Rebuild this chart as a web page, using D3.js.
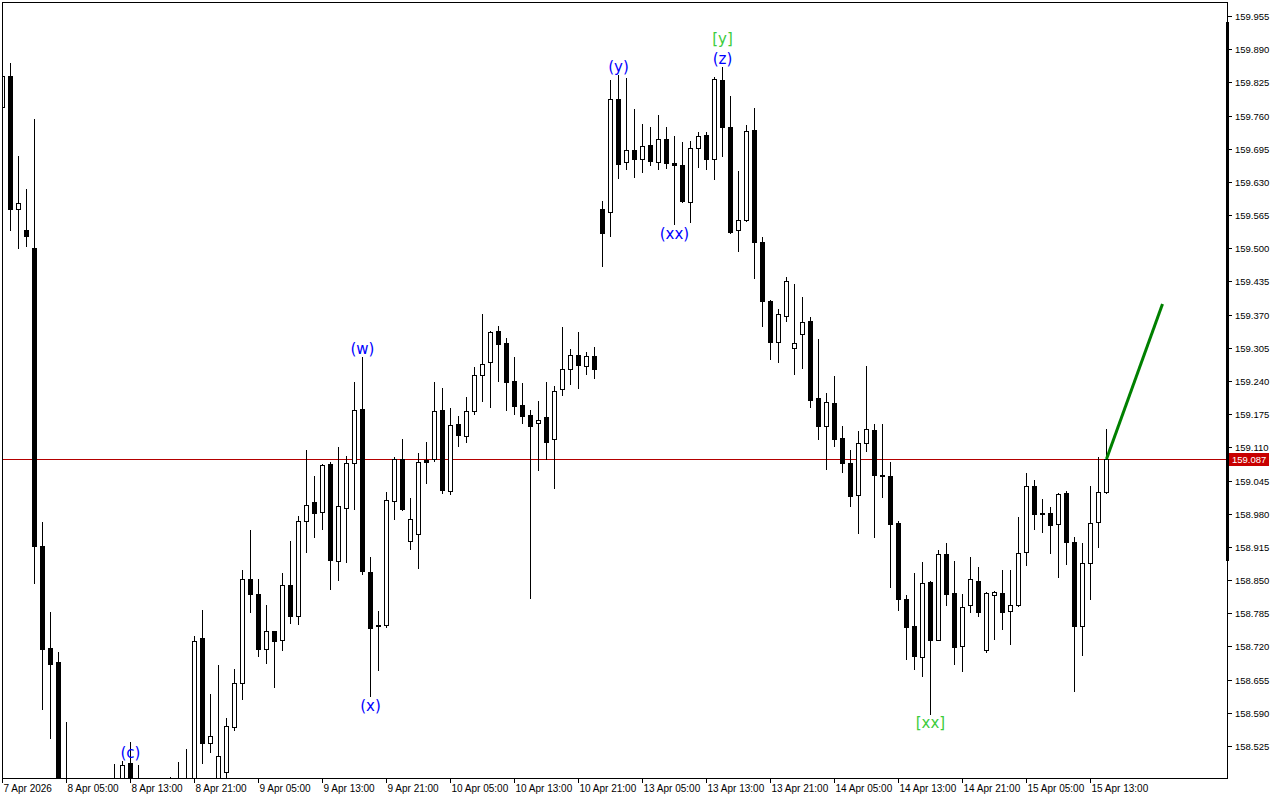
<!DOCTYPE html>
<html><head><meta charset="utf-8">
<script src="https://cdn.jsdelivr.net/npm/d3@7"></script>
<style>
html,body{margin:0;padding:0;background:#fff;}
svg{display:block;}
text{font-family:"Liberation Sans",Arial,sans-serif;}
</style></head>
<body><svg id="c" width="1280" height="800"></svg>
<script>
// ---- data (hourly candles, index 0 = 7 Apr 2026 21:00) ----
const open = [159.777,159.837,159.576,159.535,159.500,158.917,158.716,158.690,158.43,158.41,158.39,158.38,158.42,158.40,158.43,158.44,158.492,158.44,158.43,158.41,158.42,158.44,158.45,158.44,158.455,158.737,158.531,158.45,158.474,158.562,158.649,158.852,158.823,158.715,158.750,158.733,158.840,158.780,158.966,159.002,158.983,159.078,158.887,158.991,159.079,159.186,158.866,158.763,158.762,159.005,159.087,158.927,158.940,159.085,159.087,159.183,159.024,159.156,159.133,159.181,159.252,159.277,159.337,159.314,159.240,159.193,159.173,159.158,159.169,159.126,159.224,159.263,159.291,159.269,159.289,159.577,159.571,159.792,159.669,159.692,159.674,159.702,159.669,159.714,159.667,159.663,159.591,159.696,159.721,159.674,159.829,159.737,159.535,159.555,159.732,159.512,159.397,159.316,159.368,159.304,159.332,159.358,159.207,159.151,159.197,159.128,159.079,159.016,159.118,159.144,159.055,159.054,158.962,158.813,158.760,158.699,158.847,158.733,158.901,158.825,158.720,158.801,158.848,158.713,158.821,158.825,158.790,158.801,158.905,159.034,158.981,158.981,158.960,159.021,158.925,158.761,158.883,158.963,159.023];
const high = [159.841,159.863,159.681,159.617,159.754,158.964,158.787,158.710,158.572,158.445,158.43,158.44,158.455,158.45,158.489,158.496,158.532,158.487,158.455,158.45,158.455,158.465,158.493,158.520,158.741,158.792,158.626,158.683,158.580,158.676,158.870,158.949,158.852,158.801,158.751,158.863,158.927,158.975,159.105,159.054,159.078,159.082,159.111,159.094,159.238,159.287,158.896,158.790,159.023,159.091,159.127,159.011,159.099,159.120,159.238,159.227,159.188,159.171,159.209,159.268,159.372,159.338,159.348,159.325,159.287,159.236,159.184,159.201,159.238,159.231,159.346,159.303,159.336,159.297,159.307,159.593,159.830,159.840,159.833,159.773,159.744,159.738,159.761,159.738,159.720,159.708,159.710,159.728,159.728,159.836,159.855,159.798,159.651,159.741,159.774,159.522,159.399,159.381,159.444,159.430,159.405,159.366,159.323,159.217,159.250,159.152,159.105,159.142,159.270,159.156,159.156,159.082,158.965,158.821,158.863,158.886,158.848,158.908,158.923,158.888,158.823,158.896,158.876,158.827,158.828,158.870,158.870,158.974,159.060,159.047,159.009,158.993,159.021,159.025,158.934,158.923,159.035,159.092,159.146];
const low = [159.777,159.536,159.501,159.504,158.845,158.597,158.541,158.40,158.38,158.37,158.35,158.36,158.39,158.37,158.41,158.42,158.42,158.40,158.39,158.38,158.39,158.41,158.42,158.41,158.44,158.492,158.514,158.43,158.45,158.556,158.617,158.787,158.701,158.688,158.641,158.714,158.766,158.764,158.906,158.934,158.950,158.833,158.850,158.885,158.990,158.862,158.622,158.674,158.759,158.970,158.987,158.911,158.874,159.041,159.084,159.021,159.019,159.112,159.120,159.176,159.200,159.190,159.240,159.183,159.176,159.157,158.815,159.065,159.088,159.030,159.212,159.235,159.227,159.253,159.245,159.466,159.525,159.638,159.656,159.640,159.650,159.663,159.656,159.658,159.547,159.591,159.551,159.660,159.655,159.635,159.680,159.530,159.494,159.554,159.441,159.347,159.284,159.278,159.357,159.253,159.266,159.190,159.127,159.067,159.112,159.061,158.996,158.943,159.102,158.934,159.012,158.836,158.791,158.695,158.675,158.663,158.588,158.732,158.801,158.685,158.671,158.787,158.779,158.710,158.734,158.754,158.724,158.800,158.879,158.951,158.945,158.904,158.857,158.881,158.632,158.703,158.812,158.914,159.020];
const close = [159.837,159.577,159.588,159.524,158.917,158.715,158.686,158.43,158.41,158.39,158.38,158.42,158.40,158.43,158.44,158.487,158.44,158.43,158.41,158.42,158.44,158.45,158.44,158.455,158.731,158.531,158.545,158.506,158.564,158.649,158.852,158.823,158.715,158.750,158.730,158.840,158.779,158.966,158.997,158.981,159.076,158.889,158.995,159.080,159.183,158.867,158.757,158.760,159.007,159.087,158.990,158.970,159.081,159.082,159.181,159.026,159.154,159.135,159.181,159.252,159.273,159.336,159.312,159.239,159.192,159.172,159.151,159.164,159.120,159.221,159.263,159.291,159.271,159.289,159.263,159.529,159.792,159.665,159.692,159.674,159.700,159.671,159.714,159.667,159.663,159.593,159.696,159.720,159.674,159.831,159.737,159.532,159.555,159.729,159.512,159.396,159.316,159.371,159.436,159.314,159.355,159.202,159.151,159.199,159.127,159.079,159.014,159.118,159.146,159.055,159.053,158.959,158.812,158.759,158.701,158.844,158.732,158.901,158.822,158.718,158.797,158.852,158.787,158.825,158.827,158.787,158.801,158.903,159.034,158.979,158.980,158.957,159.019,158.925,158.761,158.884,158.962,159.023,159.087];

const xTickIndex = [0,8,16,24,32,40,48,56,64,72,80,88,96,104,112,120,128,136];
const xTickLabels = ["7 Apr 2026","8 Apr 05:00","8 Apr 13:00","8 Apr 21:00","9 Apr 05:00","9 Apr 13:00","9 Apr 21:00","10 Apr 05:00","10 Apr 13:00","10 Apr 21:00","13 Apr 05:00","13 Apr 13:00","13 Apr 21:00","14 Apr 05:00","14 Apr 13:00","14 Apr 21:00","15 Apr 05:00","15 Apr 13:00"];
const yTicks = [158.525,158.590,158.655,158.720,158.785,158.850,158.915,158.980,159.045,159.110,159.175,159.240,159.305,159.370,159.435,159.500,159.565,159.630,159.695,159.760,159.825,159.890,159.955];

const waveText  = ["(c)","(w)","(x)","(y)","(xx)","(z)","[y]","[xx]"];
const waveIndex = [16,45,46,77,84,90,90,116];
const wavePrice = [158.512,159.303,158.604,159.855,159.528,159.871,159.910,158.571];
const waveKind  = ["minor","minor","minor","minor","minor","minor","major","major"];

const projIndex = [138,145];
const projPrice = [159.087,159.391];
const lastPrice = 159.087;
const rangeBar = [159.943,158.888];

// ---- layout ----
const L = 2, T = 2, R = 1227, B = 778;
const svg = d3.select("#c");
const x = d3.scaleLinear().domain([0,153]).range([2.5,1226.5]);
const y = d3.scaleLinear().domain([158.525,159.955]).range([746,16]);

svg.append("defs").append("clipPath").attr("id","clip")
  .append("rect").attr("x",L).attr("y",T).attr("width",R-L).attr("height",B-T);

const plot = svg.append("g").attr("clip-path","url(#clip)");

// current price line
const yl = Math.round(y(lastPrice))+0.5;
plot.append("line").attr("x1",L).attr("x2",R).attr("y1",yl).attr("y2",yl)
  .attr("stroke","#b40000").attr("stroke-width",1).attr("shape-rendering","crispEdges");

const data = open.map((o,i)=>({i,o,h:high[i],l:low[i],c:close[i]}));
const g = plot.append("g").attr("shape-rendering","crispEdges");
data.forEach(d=>{
  const cx = x(d.i);
  const yh = Math.round(y(d.h)), ylo = Math.round(y(d.l));
  g.append("line").attr("x1",cx).attr("x2",cx).attr("y1",yh).attr("y2",ylo+1)
    .attr("stroke","#000").attr("stroke-width",1);
  const yo = Math.round(y(d.o)), yc = Math.round(y(d.c));
  const top = Math.min(yo,yc), bot = Math.max(yo,yc);
  if (bot-top < 1) {
    g.append("line").attr("x1",cx-2.5).attr("x2",cx+2.5).attr("y1",top+0.5).attr("y2",top+0.5)
      .attr("stroke","#000").attr("stroke-width",1);
  } else {
    g.append("rect").attr("x",cx-2).attr("y",top+0.5).attr("width",4).attr("height",bot-top)
      .attr("fill", d.c>=d.o ? "#fff" : "#000").attr("stroke","#000").attr("stroke-width",1);
  }
});

// projection
plot.append("line")
  .attr("x1",x(projIndex[0])).attr("y1",y(projPrice[0]))
  .attr("x2",x(projIndex[1])).attr("y2",y(projPrice[1]))
  .attr("stroke","#008000").attr("stroke-width",3);

// wave labels
waveText.forEach((t,k)=>{
  plot.append("text").attr("x",x(waveIndex[k])).attr("y",y(wavePrice[k]))
    .attr("text-anchor","middle").attr("dominant-baseline","central")
    .style("font-family","'DejaVu Sans',sans-serif").style("font-size","15px")
    .attr("fill", waveKind[k]==="major" ? "#3ccc3c" : "#0000ff").text(t);
});

// frame
svg.append("rect").attr("x",L+0.5).attr("y",T+0.5).attr("width",R-L).attr("height",B-T)
  .attr("fill","none").attr("stroke","#000").attr("stroke-width",1).attr("shape-rendering","crispEdges");

// right-axis range bar
svg.append("rect").attr("x",R-1).attr("y",Math.round(y(rangeBar[0]))).attr("width",3)
  .attr("height",Math.round(y(rangeBar[1]))-Math.round(y(rangeBar[0]))).attr("fill","#000");

// y axis
const ya = svg.append("g");
yTicks.forEach(v=>{
  const yy = Math.round(y(v))+0.5;
  ya.append("line").attr("x1",R+1).attr("x2",R+5).attr("y1",yy).attr("y2",yy)
    .attr("stroke","#000").attr("shape-rendering","crispEdges");
  ya.append("text").attr("x",1235).attr("y",yy).attr("dominant-baseline","central")
    .style("font-size","9.5px").attr("fill","#000").text(v.toFixed(3));
});

// x axis
const xa = svg.append("g");
xTickIndex.forEach((ix,k)=>{
  const xx = x(ix);
  xa.append("line").attr("x1",xx).attr("x2",xx).attr("y1",B+1).attr("y2",B+5)
    .attr("stroke","#000").attr("shape-rendering","crispEdges");
  xa.append("text").attr("x",xx+1).attr("y",792)
    .style("font-size","10px").attr("fill","#000").text(xTickLabels[k]);
});

// last price tag
const tag = svg.append("g");
tag.append("rect").attr("x",R+2).attr("y",yl-6.5).attr("width",40).attr("height",13).attr("fill","#c80000");
tag.append("text").attr("x",R+5).attr("y",yl).attr("dominant-baseline","central")
  .style("font-size","9.5px").attr("fill","#fff").text(lastPrice.toFixed(3));
</script></body></html>
